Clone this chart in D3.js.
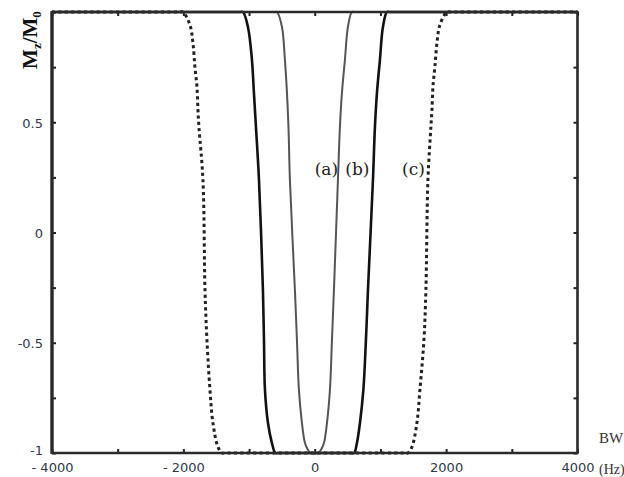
<!DOCTYPE html>
<html><head><meta charset="utf-8">
<script src="https://cdn.jsdelivr.net/npm/d3@7"></script>
<style>body{margin:0;background:#fff}svg{display:block}</style>
</head><body>
<svg id="chart" width="624" height="477"></svg>
<script>
// ---- data ----
const curveA_freq = [-4000,-620,-575,-499,-454,-423,-400,-378,-302,-271,-241,-195,-149,-104,-58,49,94,140,186,231,262,292,353,383,414,459,505,566,610,4000];
const curveA_mz   = [1,1,1,0.932,0.782,0.633,0.478,0.238,-0.261,-0.488,-0.714,-0.864,-0.955,-0.986,-1,-1,-0.986,-0.955,-0.864,-0.714,-0.488,-0.261,0.238,0.478,0.633,0.782,0.932,1,1,1];

const curveB_freq = [-4000,-1140,-1093,-1017,-956,-926,-895,-849,-789,-773,-758,-712,-652,-600,-560,560,600,642,688,740,779,810,886,916,947,992,1038,1099,1145,4000];
const curveB_mz   = [1,1,1,0.932,0.782,0.633,0.478,0.238,-0.261,-0.488,-0.714,-0.864,-0.955,-1,-1,-1,-1,-0.955,-0.864,-0.714,-0.488,-0.261,0.238,0.478,0.633,0.782,0.932,1,1,1];

const curveC_freq = [-4000,-2060,-2006,-1900,-1854,-1824,-1793,-1778,-1763,-1702,-1671,-1641,-1595,-1550,-1473,-1413,-1370,1375,1418,1479,1555,1601,1662,1692,1723,1768,1784,1799,1829,1860,1905,2012,2065,4000];
const curveC_mz   = [1,1,1,0.941,0.859,0.751,0.66,0.556,0.478,0.238,-0.261,-0.488,-0.714,-0.864,-0.973,-1,-1,-1,-1,-0.973,-0.864,-0.714,-0.488,-0.261,0.238,0.478,0.556,0.66,0.751,0.859,0.941,1,1,1];

const seriesNames = ["(a)","(b)","(c)"];
const labelFreq = [178, 650, 1502];
const labelMz   = [0.29, 0.29, 0.29];

const xTicks = [-4000,-3000,-2000,-1000,0,1000,2000,3000,4000];
const xTickLabels = ["- 4000","","- 2000","","0","","2000","","4000"];
const yTicks = [-1,-0.75,-0.5,-0.25,0,0.25,0.5,0.75,1];
const yTickLabels = ["-1","","-0.5","","0","","0.5","",""];

// ---- layout ----
const svg = d3.select("#chart");
const L = 52, R = 577.5, T = 12, B = 453;
const x = d3.scaleLinear().domain([-4000,4000]).range([L,R]);
const y = d3.scaleLinear().domain([-1,1]).range([B,T]);

const line = d3.line().x(d=>x(d[0])).y(d=>y(d[1])).curve(d3.curveCatmullRom.alpha(0.5));
const zip = (a,b)=>a.map((v,i)=>[v,b[i]]);

// curves
svg.append("path").datum(zip(curveC_freq,curveC_mz)).attr("d",line)
  .attr("fill","none").attr("stroke","#222").attr("stroke-width",3).attr("stroke-dasharray","3.2,3.2");
svg.append("path").datum(zip(curveB_freq,curveB_mz)).attr("d",line)
  .attr("fill","none").attr("stroke","#111").attr("stroke-width",2.6);
svg.append("path").datum(zip(curveA_freq,curveA_mz)).attr("d",line)
  .attr("fill","none").attr("stroke","#555").attr("stroke-width",2);

// axes (inward ticks on all four sides)
const tickFont = "DejaVu Sans, sans-serif";
const gB = svg.append("g").attr("transform",`translate(0,${B})`)
  .call(d3.axisBottom(x).tickValues(xTicks).tickSize(-4).tickPadding(10).tickFormat((d,i)=>xTickLabels[i]));
const gT = svg.append("g").attr("transform",`translate(0,${T})`)
  .call(d3.axisTop(x).tickValues(xTicks).tickSize(-4).tickFormat(""));
const gL = svg.append("g").attr("transform",`translate(${L},0)`)
  .call(d3.axisLeft(y).tickValues(yTicks).tickSize(-4).tickPadding(9).tickFormat((d,i)=>yTickLabels[i]));
const gR = svg.append("g").attr("transform",`translate(${R},0)`)
  .call(d3.axisRight(y).tickValues(yTicks).tickSize(-4).tickFormat(""));
[gB,gT,gL,gR].forEach(g=>{
  g.select(".domain").remove();
  g.selectAll(".tick line").attr("stroke","#222").attr("stroke-width",2);
  g.selectAll(".tick text").attr("fill","#333848").style("font-family",tickFont).style("font-size","13px");
});
gL.selectAll(".tick text").attr("dy",(d)=> d===-1 ? "0.1em" : "0.38em");

// frame
svg.append("path").attr("d",`M${L},${T}H${R}V${B}H${L}Z`)
  .attr("fill","none").attr("stroke","#2a2a2a").attr("stroke-width",2.6).attr("stroke-linejoin","round");
svg.append("line").attr("x1",L).attr("x2",L).attr("y1",T-1).attr("y2",B+1).attr("stroke","#2a2a2a").attr("stroke-width",3.2);

// curve labels
svg.selectAll("text.lab").data(seriesNames).join("text").attr("class","lab")
  .attr("x",(d,i)=>x(labelFreq[i])).attr("y",(d,i)=>y(labelMz[i]))
  .attr("text-anchor","middle").attr("dy","0.35em")
  .style("font-family","DejaVu Serif, serif").style("font-size","17px").attr("fill","#222")
  .text(d=>d);

// y-axis title
const yt = svg.append("text").attr("transform","translate(37,40) rotate(-90)")
  .attr("text-anchor","middle")
  .style("font-family","Liberation Serif, serif").style("font-weight","bold").style("font-size","21px").attr("fill","#111");
yt.append("tspan").text("M");
yt.append("tspan").text("z").style("font-size","13px").attr("dy","4");
yt.append("tspan").text("/M").attr("dy","-4");
yt.append("tspan").text("0").style("font-size","13px").attr("dy","4");

// x-axis title
svg.append("text").attr("x",599).attr("y",443).text("BW")
  .style("font-family","Liberation Serif, serif").style("font-size","15px").attr("fill","#333");
svg.append("text").attr("x",599).attr("y",474).text("(Hz)")
  .style("font-family","Liberation Serif, serif").style("font-size","14px").attr("fill","#333");
</script>
</body></html>
